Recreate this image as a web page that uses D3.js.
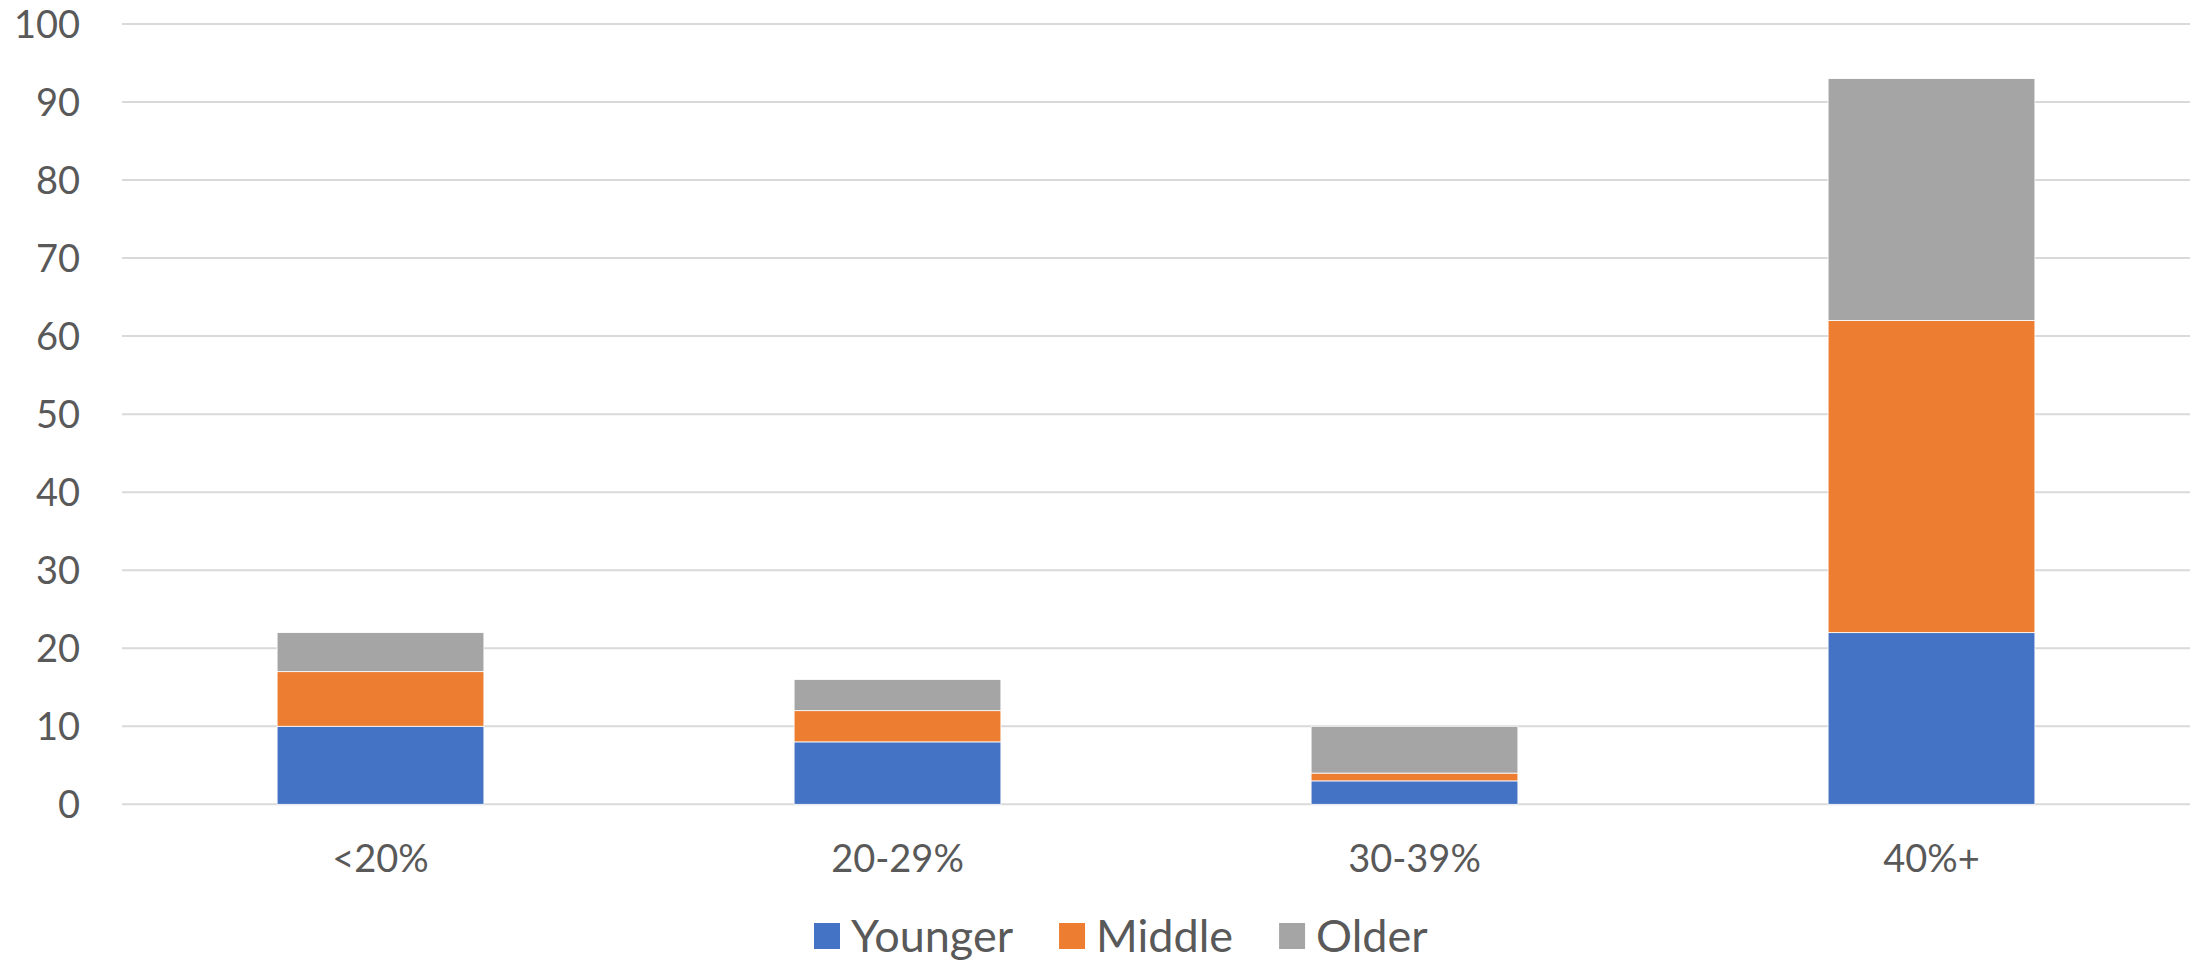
<!DOCTYPE html>
<html>
<head>
<meta charset="utf-8">
<script src="https://cdn.jsdelivr.net/npm/d3@7"></script>
<style>
  html, body { margin: 0; padding: 0; background: #fff; }
  svg { display: block; }
  text { font-family: "Lato", sans-serif; fill: #595959; }
</style>
</head>
<body>
<svg id="chart" width="2201" height="965"></svg>
<script>
const categories = ["<20%", "20-29%", "30-39%", "40%+"];
const seriesNames = ["Younger", "Middle", "Older"];
const younger = [10, 8, 3, 22];
const middle = [7, 4, 1, 40];
const older = [5, 4, 6, 31];
const yTicks = [0, 10, 20, 30, 40, 50, 60, 70, 80, 90, 100];
const colors = ["#4472C4", "#ED7D31", "#A5A5A5"];

const rows = categories.map((c, i) => ({ cat: c, Younger: younger[i], Middle: middle[i], Older: older[i] }));

const svg = d3.select("#chart");
const plotLeft = 122, plotRight = 2190, plotTop = 24, plotBottom = 804.3;
const fontFam = "Lato";

const x = d3.scaleBand().domain(categories).range([plotLeft, plotRight]).paddingInner(0.6).paddingOuter(0.3);
const y = d3.scaleLinear().domain([0, 100]).range([plotBottom, plotTop]);

// gridlines
svg.append("g").selectAll("line").data(yTicks).join("line")
  .attr("x1", plotLeft).attr("x2", plotRight)
  .attr("y1", d => y(d)).attr("y2", d => y(d))
  .attr("stroke", "#D9D9D9").attr("stroke-width", 2);

// y labels
const yAxis = d3.axisLeft(y).tickValues(yTicks).tickSize(0).tickPadding(0);
const gy = svg.append("g").attr("transform", "translate(80,0)").call(yAxis);
gy.select(".domain").remove();
gy.selectAll("text").attr("font-size", 38).attr("font-family", fontFam).attr("fill", "#595959").attr("dy", "0.35em");

// stacked bars
const stack = d3.stack().keys(seriesNames)(rows);
svg.append("g").selectAll("g").data(stack).join("g")
  .attr("fill", (d, i) => colors[i])
  .selectAll("rect").data(d => d).join("rect")
  .attr("x", d => x(d.data.cat))
  .attr("width", x.bandwidth())
  .attr("y", d => y(d[1]))
  .attr("height", d => y(d[0]) - y(d[1]))
  .attr("stroke", "#fff").attr("stroke-width", 0.8);

// x labels
const xAxis = d3.axisBottom(x).tickSize(0).tickPadding(0);
const gx = svg.append("g").attr("transform", "translate(0,859)").call(xAxis);
gx.select(".domain").remove();
gx.selectAll("text").attr("font-size", 38).attr("font-family", fontFam).attr("fill", "#595959").attr("dy", "0.35em");

// legend
const legend = svg.append("g");
let lx = 814;
const ly = 936;
seriesNames.forEach((name, i) => {
  legend.append("rect").attr("x", lx).attr("y", ly - 13).attr("width", 26).attr("height", 26).attr("fill", colors[i]);
  const t = legend.append("text").attr("x", lx + 37).attr("y", ly).attr("dy", "0.35em")
    .attr("font-size", 45).attr("font-family", fontFam).text(name);
  lx += 37 + t.node().getComputedTextLength() + 46;
});
</script>
</body>
</html>
